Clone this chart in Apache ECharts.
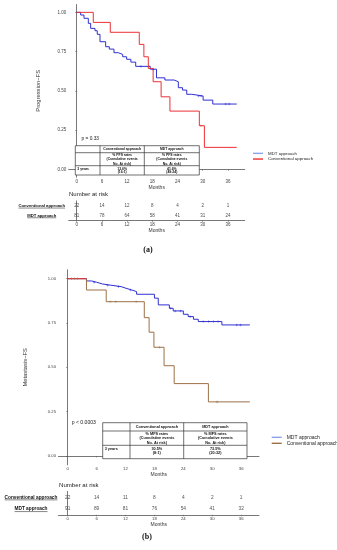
<!DOCTYPE html>
<html><head><meta charset="utf-8">
<script src="https://cdn.jsdelivr.net/npm/echarts@6/dist/echarts.min.js"></script>
<style>html,body{margin:0;padding:0;background:#fff}#c{width:337px;height:550px}</style>
</head><body><div id="c"></div>
<script>
const F = '"Liberation Sans", Arial, sans-serif';
const monthTicks = [0, 6, 12, 18, 24, 30, 36];
const survTicks = [0, 0.25, 0.5, 0.75, 1];
const riskRows = ['MDT approach', 'Conventional approach'];

// ---- Panel (a): Progression-FS ----
const aMdtTime = [0, 0.95, 1.74, 2.77, 3.33, 4.36, 4.9, 5.55, 6.9, 7.77, 8.88, 9.9, 10.95, 11.9, 12.9, 14.05, 17.5, 19.0, 21.0, 23.2, 24.2, 25.2, 26.2, 27.4, 30.1, 32.4, 38.1];
const aMdtSurv = [1, 0.983, 0.962, 0.930, 0.898, 0.883, 0.860, 0.813, 0.781, 0.766, 0.743, 0.732, 0.717, 0.701, 0.683, 0.656, 0.638, 0.583, 0.569, 0.558, 0.520, 0.505, 0.478, 0.467, 0.441, 0.416, 0.416];
const aConvTime = [0, 3.95, 8.0, 14.9, 16.0, 17.05, 18.2, 20.1, 22.2, 29.2, 30.4, 38.1];
const aConvSurv = [1, 0.936, 0.873, 0.796, 0.717, 0.643, 0.558, 0.462, 0.371, 0.278, 0.14, 0.14];
const aMdtCensor = [15.3, 18.2, 29.0, 29.6, 35.5, 36.3];
const aConvCensor = [29.6];
const aRiskConv = [22, 14, 12, 8, 4, 2, 1];
const aRiskMdt = [81, 78, 64, 58, 41, 31, 24];
const aPText = 'p = 0.33';
const aTableHead = ['', 'Conventional approach', 'MDT approach'];
const aTableSub = ['', '% PFS rates\n(Cumulative events\nNo. At risk)', '% PFS rates\n(Cumulative events\nNo. At risk)'];
const aTableRow = ['3 years', '13.6%\n(16:1)', '41.6%\n(49:24)'];

// ---- Panel (b): Metastasis-FS ----
const bMdtTime = [0, 3.9, 5.0, 6.0, 7.2, 9.0, 11.1, 12.1, 13.3, 14.3, 18.0, 18.8, 21.1, 21.9, 24.0, 25.0, 26.1, 27.1, 32.0, 37.8];
const bMdtSurv = [1, 0.987, 0.980, 0.970, 0.963, 0.955, 0.946, 0.936, 0.927, 0.912, 0.890, 0.852, 0.833, 0.818, 0.799, 0.786, 0.771, 0.758, 0.739, 0.739];
const bConvTime = [0, 3.9, 8.0, 15.9, 16.9, 17.9, 20.0, 22.1, 29.2, 37.8];
const bConvSurv = [1, 0.936, 0.870, 0.780, 0.698, 0.613, 0.509, 0.408, 0.305, 0.305];
const bMdtCensor = [5.5, 8.3, 10.5, 13.0, 21.4, 22.3, 23.4, 25.4, 28.1, 29.2, 30.2, 31.2, 35.1, 35.9];
const bConvCensor = [0.8, 1.4, 2.0, 8.8, 10.0, 14.2, 19.1, 31.0];
const bRiskConv = [22, 14, 11, 8, 4, 2, 1];
const bRiskMdt = [91, 89, 81, 76, 54, 41, 32];
const bPText = 'p < 0.0003';
const bTableHead = ['', 'Conventional approach', 'MDT approach'];
const bTableSub = ['', '% MFS rates\n(Cumulative events\nNo. At risk)', '% MFS rates\n(Cumulative events\nNo. At risk)'];
const bTableRow = ['3 years', '30.5%\n(8:1)', '73.5%\n(20:32)'];

const BLUE = '#2f2fd2', BLUE_L = '#8da2e8', RED = '#ec2f35', BROWN = '#9c7048', AX = '#555';

function steps(T, S) { return T.map((t, i) => [t, S[i]]); }
function survAt(T, S, t) { let s = S[0]; for (let i = 0; i < T.length; i++) if (T[i] <= t) s = S[i]; return s; }
function censor(T, S, C) { return C.map(t => [t, survAt(T, S, t)]); }
function risk(vals, row) { return vals.map((v, i) => [monthTicks[i], row, v]); }

const plus = 'path://M4,0h2v4h4v2h-4v4h-2v-4h-4v-2h4z';

function xAx(gi, min, max, fs, nameGap, nameFs) {
  return { type: 'value', gridIndex: gi, min, max,
    axisLine: { show: true, lineStyle: { color: AX, width: 0.8 } },
    axisTick: { show: true, length: 1.5, customValues: monthTicks, lineStyle: { color: AX, width: 0.6 } },
    axisLabel: { customValues: monthTicks, fontSize: fs, color: '#444', margin: 2, fontFamily: F },
    splitLine: { show: false },
    name: 'Months', nameLocation: 'middle', nameGap, nameTextStyle: { fontSize: nameFs, color: '#333', fontFamily: F } };
}
function yMain(gi, name, fs, nameGap, nameFs) {
  return { type: 'value', gridIndex: gi, min: -0.05, max: 1.05,
    axisLine: { show: true, lineStyle: { color: AX, width: 0.8 } },
    axisTick: { show: true, length: 1.5, customValues: survTicks, lineStyle: { color: AX, width: 0.6 } },
    axisLabel: { customValues: survTicks, fontSize: fs, color: '#444', margin: 2.5, fontFamily: F, formatter: v => v.toFixed(2) },
    splitLine: { show: false },
    name, nameLocation: 'middle', nameGap, nameRotate: 90, nameTextStyle: { fontSize: nameFs, color: '#333', fontFamily: F } };
}
function yRisk(gi, fs, margin) {
  return { type: 'category', gridIndex: gi, data: riskRows,
    axisLine: { show: true, lineStyle: { color: AX, width: 0.8 } },
    axisTick: { show: false },
    axisLabel: { fontSize: fs, fontWeight: 'bold', color: '#111', align: 'center', margin, fontFamily: F },
    splitLine: { show: false } };
}
function line(name, xi, T, S, color, z) {
  return { name, type: 'line', xAxisIndex: xi, yAxisIndex: xi, step: 'end', showSymbol: false, silent: true,
    data: steps(T, S), lineStyle: { color, width: 1 }, itemStyle: { color }, z: z || 2 };
}
function cens(xi, pts, color) {
  return { type: 'scatter', xAxisIndex: xi, yAxisIndex: xi, symbol: plus, symbolSize: 2.6, data: pts,
    itemStyle: { color }, silent: true, z: 4 };
}
function riskSeries(xi, data, fs) {
  return { type: 'scatter', xAxisIndex: xi, yAxisIndex: xi, symbolSize: 0, data, silent: true,
    label: { show: true, position: 'inside', formatter: p => p.value[2], fontSize: fs, color: '#222', fontFamily: F } };
}
function table(cols, rows, head, sub, row, fs, subLh, rowLh, rowTop) {
  const els = [];
  const st = { stroke: '#333', lineWidth: 0.7 };
  els.push({ type: 'rect', shape: { x: cols[0], y: rows[0], width: cols[3] - cols[0], height: rows[3] - rows[0] }, style: { fill: '#fff', stroke: '#333', lineWidth: 0.7 }, z: 10 });
  [cols[1], cols[2]].forEach(x => els.push({ type: 'line', shape: { x1: x, y1: rows[0], x2: x, y2: rows[3] }, style: st, z: 11 }));
  [rows[1], rows[2]].forEach(y => els.push({ type: 'line', shape: { x1: cols[0], y1: y, x2: cols[3], y2: y }, style: st, z: 11 }));
  const txt = (text, x, y, align, va, lh) => els.push({ type: 'text', z: 12, style: { text, x, y, align, verticalAlign: va, fontSize: fs, fontWeight: 'bold', fontFamily: F, fill: '#111', lineHeight: lh } });
  for (let c = 0; c < 3; c++) {
    const cx = (cols[c] + cols[c + 1]) / 2;
    if (head[c]) txt(head[c], cx, (rows[0] + rows[1]) / 2, 'center', 'middle', fs * 1.2);
    if (sub[c]) txt(sub[c], cx, (rows[1] + rows[2]) / 2, 'center', 'middle', subLh);
    if (row[c]) {
      if (c === 0) txt(row[c], cols[0] + 2, rows[2] + rowTop, 'left', 'top', rowLh);
      else txt(row[c], cx, rows[2] + rowTop, 'center', 'top', rowLh);
    }
  }
  return els;
}
function text(t, x, y, fs, opts) {
  return Object.assign({ type: 'text', z: 12, style: Object.assign({ text: t, x, y, fontSize: fs, fontFamily: F, fill: '#222', align: 'left', verticalAlign: 'middle' }, opts || {}) });
}

const chart = echarts.init(document.getElementById('c'), null, { renderer: 'canvas' });

const graphics = [].concat(
  table([75.3, 100, 144.3, 199.3], [145.7, 152.7, 165.7, 175], aTableHead, aTableSub, aTableRow, 3.4, 4.5, 3.6, 1.3),
  table([102.7, 130, 183.7, 247], [422.7, 431, 445.3, 458.7], bTableHead, bTableSub, bTableRow, 3.8, 4.7, 3.9, 1.6),
  [text(aPText, 81.5, 138.3, 4.8), text(bPText, 71.7, 422.3, 5.1),
   text('Number at risk', 69, 194, 6), text('Number at risk', 59, 485, 6.1),
   text('(a)', 148, 249.5, 8, { align: 'center', fontFamily: '"Liberation Serif", serif', fontWeight: 'bold', fill: '#111' }),
   text('(b)', 147, 537, 8, { align: 'center', fontFamily: '"Liberation Serif", serif', fontWeight: 'bold', fill: '#111' })]
);

chart.setOption({
  animation: false,
  backgroundColor: '#fff',
  grid: [
    { left: 68.7, top: 4.5, width: 176, height: 172.7, outerBoundsMode: 'none' },
    { left: 68.7, top: 200.9, width: 176, height: 19.4, outerBoundsMode: 'none' },
    { left: 58.5, top: 269.8, width: 200.5, height: 195, outerBoundsMode: 'none' },
    { left: 58.5, top: 491.4, width: 200.5, height: 23.4, outerBoundsMode: 'none' }
  ],
  xAxis: [
    xAx(0, -1.9, 40.0, 4.5, 6.3, 5),
    xAx(1, -1.9, 40.0, 4.5, 6.3, 5),
    xAx(2, -1.9, 39.7, 4.3, 7, 5),
    xAx(3, -1.9, 39.7, 4.3, 6.5, 5)
  ],
  yAxis: [
    yMain(0, 'Progression\u2212FS', 4.5, 27, 5.8),
    yRisk(1, 4.2, 27),
    yMain(2, 'Metastasis\u2212FS', 4.2, 30.5, 5.8),
    yRisk(3, 4.75, 27.5)
  ],
  legend: [
    { left: 253, top: 150.5, orient: 'vertical', icon: 'rect', itemWidth: 10, itemHeight: 1.4, itemGap: 0, padding: 0, selectedMode: false,
      textStyle: { fontSize: 4.4, lineHeight: 5.7, color: '#222', fontFamily: F },
      data: [{ name: 'MDT approach', itemStyle: { color: BLUE_L } }, { name: 'Conventional approach', itemStyle: { color: RED } }] },
    { left: 271.7, top: 434.3, orient: 'vertical', icon: 'rect', itemWidth: 10, itemHeight: 1.4, itemGap: 0, padding: 0, selectedMode: false,
      textStyle: { fontSize: 5, lineHeight: 6, color: '#222', fontFamily: F },
      data: [{ name: 'MDT approach', itemStyle: { color: BLUE_L } }, { name: 'Conventional approach', itemStyle: { color: BROWN } }] }
  ],
  series: [
    line('MDT approach', 0, aMdtTime, aMdtSurv, BLUE, 2),
    line('Conventional approach', 0, aConvTime, aConvSurv, RED, 3),
    cens(0, censor(aMdtTime, aMdtSurv, aMdtCensor), BLUE),
    cens(0, censor(aConvTime, aConvSurv, aConvCensor), RED),
    riskSeries(1, risk(aRiskConv, 'Conventional approach').concat(risk(aRiskMdt, 'MDT approach')), 4.5),
    line('MDT approach', 2, bMdtTime, bMdtSurv, BLUE, 2),
    line('Conventional approach', 2, bConvTime, bConvSurv, BROWN, 3),
    line('start', 2, bConvTime.slice(0, 2), bConvSurv.slice(0, 1).concat(bConvSurv.slice(0, 1)), RED, 3),
    cens(2, censor(bMdtTime, bMdtSurv, bMdtCensor), BLUE),
    cens(2, censor(bConvTime, bConvSurv, bConvCensor), BROWN),
    riskSeries(3, risk(bRiskConv, 'Conventional approach').concat(risk(bRiskMdt, 'MDT approach')), 4.8)
  ],
  graphic: graphics
});

// underline the risk-table row labels
(function () {
  const ctx = document.createElement('canvas').getContext('2d');
  const extra = [];
  [[1, 27, 4.2, 68.7], [3, 27.5, 4.75, 58.5]].forEach(([gi, margin, fs, axX]) => {
    ctx.font = 'bold ' + fs + 'px ' + F;
    riskRows.forEach(r => {
      const y = chart.convertToPixel({ yAxisIndex: gi }, r);
      const w = ctx.measureText(r).width;
      const cx = axX - margin;
      const uy = y + fs * 0.55;
      extra.push({ type: 'line', z: 12, shape: { x1: cx - w / 2, y1: uy, x2: cx + w / 2, y2: uy }, style: { stroke: '#111', lineWidth: 0.5 } });
    });
  });
  chart.setOption({ graphic: graphics.concat(extra) });
})();
</script></body></html>
